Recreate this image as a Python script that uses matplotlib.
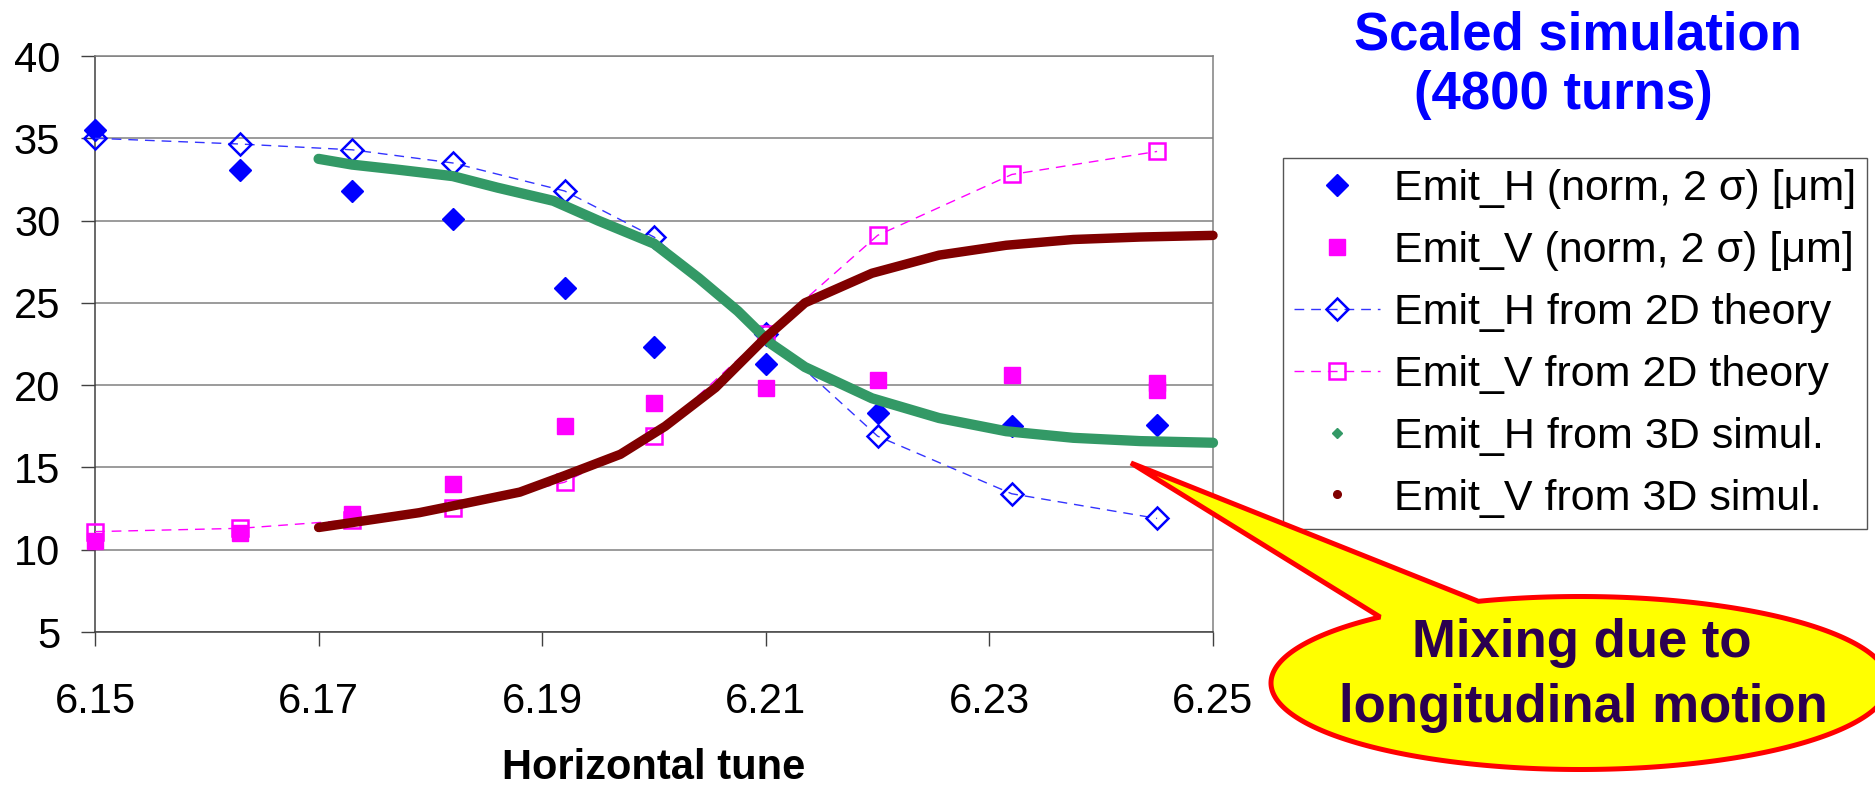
import numpy as np
import matplotlib
matplotlib.use("Agg")
import matplotlib.pyplot as plt
from matplotlib.lines import Line2D
from matplotlib.patches import Polygon

plt.rcParams['font.family'] = ['Liberation Sans', 'DejaVu Sans']

W, H = 1875, 789

# ------------------- values -------------------
tune_meas = [6.150, 6.163, 6.173, 6.182, 6.192, 6.200, 6.210, 6.220, 6.232, 6.245]
emit_h_meas = [35.5, 33.1, 31.8, 30.1, 25.9, 22.3, 21.3, 18.3, 17.5, 17.6]

tune_v_meas = [6.150, 6.163, 6.173, 6.182, 6.192, 6.200, 6.210, 6.220, 6.232, 6.245, 6.245]
emit_v_meas = [10.5, 11.0, 12.2, 14.0, 17.5, 18.9, 19.8, 20.3, 20.6, 20.1, 19.7]

emit_h_2d = [35.0, 34.65, 34.3, 33.5, 31.8, 29.0, 23.1, 16.9, 13.4, 11.9]
emit_v_2d = [11.1, 11.3, 11.8, 12.55, 14.1, 16.9, 23.1, 29.1, 32.8, 34.2]

tune_h_3d = [6.170, 6.173, 6.177, 6.182, 6.186, 6.191, 6.195, 6.200, 6.204,
             6.2075, 6.2105, 6.2135, 6.2195, 6.2255, 6.2315, 6.2375, 6.2435, 6.250]
emit_h_3d = [33.75, 33.4, 33.1, 32.7, 32.0, 31.2, 30.0, 28.6, 26.5,
             24.5, 22.5, 21.1, 19.2, 18.0, 17.2, 16.8, 16.6, 16.5]

tune_v_3d = [6.170, 6.174, 6.179, 6.183, 6.188, 6.192, 6.197, 6.201, 6.2055,
             6.210, 6.2135, 6.2195, 6.2255, 6.2315, 6.2375, 6.2435, 6.250]
emit_v_3d = [11.35, 11.75, 12.25, 12.8, 13.5, 14.5, 15.8, 17.5, 19.85,
             22.9, 25.0, 26.8, 27.9, 28.5, 28.85, 29.0, 29.1]

series_labels = ["Emit_H (norm, 2 \u03c3) [\u03bcm]",
                 "Emit_V (norm, 2 \u03c3) [\u03bcm]",
                 "Emit_H from 2D theory",
                 "Emit_V from 2D theory",
                 "Emit_H from 3D simul.",
                 "Emit_V from 3D simul."]

x_ticks = [6.15, 6.17, 6.19, 6.21, 6.23, 6.25]
y_ticks = [5, 10, 15, 20, 25, 30, 35, 40]

title_lines = ["Scaled simulation", "(4800 turns)"]
callout_lines = ["Mixing due to", "longitudinal motion"]
x_label = "Horizontal tune"

BLUE = '#0000FF'
MAGENTA = '#FF00FF'
GREEN = '#339966'
MAROON = '#800000'


def fig_xy(px, py):
    """pixel position (top-left origin) -> figure fraction"""
    return px / W, 1 - py / H


fig = plt.figure(figsize=(W / 100, H / 100), dpi=100)
ax = fig.add_axes([95 / W, 1 - 632 / H, (1213 - 95) / W, (632 - 56) / H])

# grid / frame
ax.set_xlim(6.15, 6.25)
ax.set_ylim(5, 40)
ax.set_yticks(y_ticks)
ax.set_xticks(x_ticks)
ax.set_xticklabels([f"{t:.2f}" for t in x_ticks])
ax.yaxis.grid(True, color='#808080', lw=1.1)
ax.set_axisbelow(True)
for side in ['top', 'right']:
    ax.spines[side].set_color('#808080')
    ax.spines[side].set_linewidth(1.1)
for side in ['left', 'bottom']:
    ax.spines[side].set_color('#404040')
    ax.spines[side].set_linewidth(1.1)
ax.tick_params(axis='both', direction='out', length=10, width=1.0,
               color='#404040', labelsize=30)
ax.tick_params(axis='y', pad=15)
ax.tick_params(axis='x', pad=26)
ax.set_xlabel(x_label, fontsize=30, fontweight='bold', labelpad=19)

# series, in the order Excel stacks them
h_meas, = ax.plot(tune_meas, emit_h_meas, ls='none', marker='D', ms=11,
                  color=BLUE, mec=BLUE, zorder=3, clip_on=False)
v_meas, = ax.plot(tune_v_meas, emit_v_meas, ls='none', marker='s', ms=11.5,
                  color=MAGENTA, mec=MAGENTA, zorder=3, clip_on=False)
h_2d, = ax.plot(tune_meas, emit_h_2d, ls=(0, (7, 5)), lw=1.0, color='#3333FF',
                marker='D', ms=11, mfc='none', mec=BLUE, mew=1.8, zorder=4,
                clip_on=False)
v_2d, = ax.plot(tune_meas, emit_v_2d, ls=(0, (7, 5)), lw=1.0, color=MAGENTA,
                marker='s', ms=11, mfc='none', mec=MAGENTA, mew=1.8, zorder=4,
                clip_on=False)
ax.plot(tune_h_3d, emit_h_3d, color=GREEN, lw=7.4, solid_capstyle='round',
        solid_joinstyle='round', zorder=5, clip_on=False)
ax.plot(tune_v_3d, emit_v_3d, color=MAROON, lw=6.8, solid_capstyle='round',
        solid_joinstyle='round', zorder=6, clip_on=False)

h_3d = Line2D([], [], ls='none', marker='D', ms=5, color=GREEN)
v_3d = Line2D([], [], ls='none', marker='o', ms=5.5, color=MAROON)

leg = ax.legend([h_meas, v_meas, h_2d, v_2d, h_3d, v_3d], series_labels,
                loc='upper left', bbox_to_anchor=fig_xy(1283, 158),
                bbox_transform=fig.transFigure, borderaxespad=0,
                fontsize=31, frameon=True, fancybox=False, framealpha=1,
                edgecolor='#555555', borderpad=0.25, labelspacing=0.51,
                handlelength=2.0, handletextpad=0.33)
leg.get_frame().set_linewidth(1.0)
leg.set_zorder(8)

# title block
fig.text(*fig_xy(1578, 50), title_lines[0], fontsize=38, fontweight='bold',
         color=BLUE, ha='center', va='baseline')
fig.text(*fig_xy(1563, 109), title_lines[1], fontsize=38, fontweight='bold',
         color=BLUE, ha='center', va='baseline')

# speech-bubble callout
cx, cy, a, b = 1580, 683, 309, 86.5
tip = (1131, 463)
t_low = np.arctan2((617 - cy) / b, (1380 - cx) / a)
t_up = np.arctan2((601 - cy) / b, (1478 - cx) / a)
ts = np.linspace(t_up, t_low + 2 * np.pi, 400)
pts = [fig_xy(*tip)] + [fig_xy(cx + a * np.cos(t), cy + b * np.sin(t)) for t in ts]
bubble = Polygon(np.array(pts), closed=True, transform=fig.transFigure,
                 facecolor='#FFFF00', edgecolor='#FF0000', lw=3.6,
                 joinstyle='bevel', zorder=10)
fig.add_artist(bubble)
fig.text(*fig_xy(1582, 657), callout_lines[0], fontsize=38, fontweight='bold',
         color='#2B0050', ha='center', va='baseline', zorder=11)
fig.text(*fig_xy(1583, 722), callout_lines[1], fontsize=38, fontweight='bold',
         color='#2B0050', ha='center', va='baseline', zorder=11)

fig.savefig("out.png", dpi=100)
